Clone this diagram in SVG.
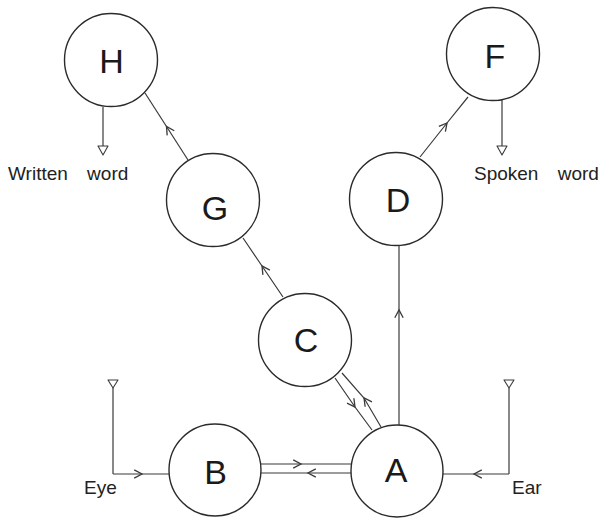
<svg xmlns="http://www.w3.org/2000/svg" width="599" height="521" viewBox="0 0 599 521">
  <style>
    .node circle { fill: #fff; stroke: #2b2b2b; stroke-width: 1.4; }
    .node text { font-family: "Liberation Sans", Arial, sans-serif; font-size: 34px; fill: #1a1a1a; text-anchor: middle; }
    .wire { fill: none; stroke: #3a3a3a; stroke-width: 1.2; }
    .flow { marker-mid: url(#chev); }
    .tip { fill: #fff; stroke: #3a3a3a; stroke-width: 1.1; stroke-linejoin: round; }
    .label { font-family: "Liberation Sans", Arial, sans-serif; font-size: 19px; fill: #222; }
  </style>
  <defs>
    <marker id="chev" markerUnits="userSpaceOnUse" markerWidth="12" markerHeight="12" viewBox="-8 -5 10 10" refX="0" refY="0" orient="auto" overflow="visible">
      <path d="M-6.5,-3.5 L0,0 L-6.5,3.5" fill="none" stroke="#3a3a3a" stroke-width="1.1"/>
    </marker>
  </defs>

  <rect width="599" height="521" fill="#fff"/>

  <!-- connectors: each path has a waypoint where the direction chevron sits -->
  <g id="connectors">
    <!-- G to H -->
    <path class="wire flow" d="M188,160 L166.5,126.5 L145,93"/>
    <!-- D to F -->
    <path class="wire flow" d="M420,157 L447,123 L468,97"/>
    <!-- C to G -->
    <path class="wire flow" d="M283,297 L262,266 L243,238"/>
    <!-- C to A and A to C (parallel pair) -->
    <path class="wire flow" d="M335,378 L355,407 L372,430"/>
    <path class="wire flow" d="M381,427 L364,398 L342,373"/>
    <!-- A up to D -->
    <path class="wire flow" d="M399,425 L399,310 L399,246"/>
    <!-- B to A and A to B (parallel pair) -->
    <path class="wire flow" d="M260.5,464 L301,464 L351.5,464"/>
    <path class="wire flow" d="M351,473 L308,473 L260,473"/>
    <!-- Eye input into B -->
    <path class="wire" d="M113,388 L113,474"/>
    <path class="wire flow" d="M113,474 L142,474 L169,474"/>
    <path class="tip" d="M108,380 L118,380 L113,388 Z"/>
    <!-- Ear input into A -->
    <path class="wire" d="M509,388 L509,474"/>
    <path class="wire flow" d="M509,474 L474,474 L443,474"/>
    <path class="tip" d="M504,380 L514,380 L509,388 Z"/>
    <!-- H output: written word -->
    <path class="wire" d="M103,107 L103,146"/>
    <path class="tip" d="M98,146 L108,146 L103,155 Z"/>
    <!-- F output: spoken word -->
    <path class="wire" d="M502,100 L502,146"/>
    <path class="tip" d="M497,146 L507,146 L502,155 Z"/>
  </g>

  <g id="node-H" class="node">
    <circle cx="111" cy="60" r="46.5"/>
    <text x="111.5" y="73">H</text>
  </g>
  <g id="node-F" class="node">
    <circle cx="493" cy="54" r="46.5"/>
    <text x="495" y="68">F</text>
  </g>
  <g id="node-G" class="node">
    <circle cx="213" cy="200" r="46.5"/>
    <text x="215" y="220">G</text>
  </g>
  <g id="node-D" class="node">
    <circle cx="396" cy="199" r="46.5"/>
    <text x="398" y="212">D</text>
  </g>
  <g id="node-C" class="node">
    <circle cx="305" cy="340" r="46.5"/>
    <text x="306" y="352">C</text>
  </g>
  <g id="node-B" class="node">
    <circle cx="215" cy="470" r="46"/>
    <text x="215.5" y="484">B</text>
  </g>
  <g id="node-A" class="node">
    <circle cx="397" cy="471" r="46"/>
    <text x="396" y="482">A</text>
  </g>

  <g id="labels">
    <text class="label" x="8" y="180" word-spacing="14">Written word</text>
    <text class="label" x="474" y="180" word-spacing="14">Spoken word</text>
    <text class="label" x="84" y="494">Eye</text>
    <text class="label" x="512" y="494">Ear</text>
  </g>
</svg>
